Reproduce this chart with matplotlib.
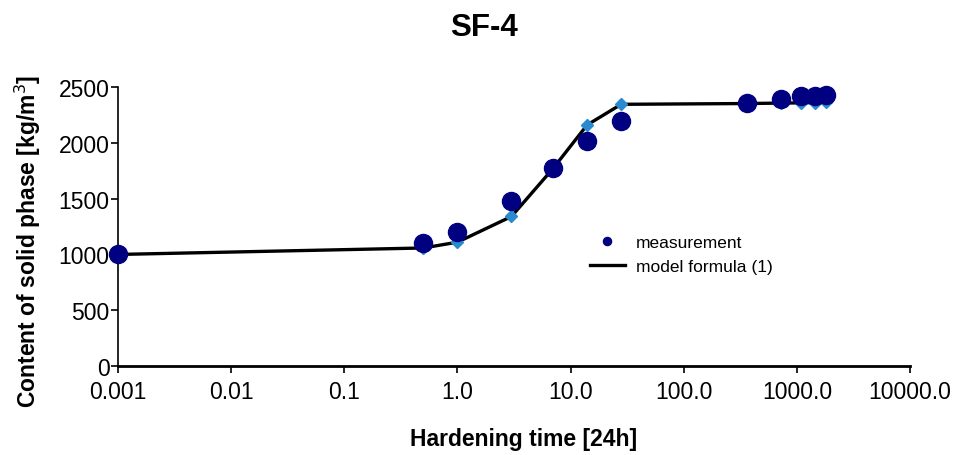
import matplotlib
matplotlib.use("Agg")
import matplotlib.pyplot as plt

plt.rcParams['font.family'] = ['Liberation Sans', 'DejaVu Sans']

time_days = [0.001, 0.5, 1, 3, 7, 14, 28, 365, 730, 1095, 1460, 1825]
measured = [1000, 1105, 1205, 1482, 1777, 2018, 2196, 2357, 2393, 2415, 2420, 2428]
model = [1000, 1058, 1110, 1340, 1770, 2160, 2345, 2352, 2356, 2358, 2360, 2362]

xticks = [0.001, 0.01, 0.1, 1, 10, 100, 1000, 10000]
xtick_labels = ["0.001", "0.01", "0.1", "1.0", "10.0", "100.0", "1000.0", "10000.0"]
yticks = [0, 500, 1000, 1500, 2000, 2500]

fig = plt.figure(figsize=(9.64, 4.56), dpi=100)
ax = fig.add_axes([0.1224, 0.195, 0.944 - 0.1224, 0.807 - 0.195])

ax.plot(time_days, model, color='black', lw=2.4, zorder=2, label='model formula (1)')
ax.plot(time_days, model, linestyle='none', marker='D', markersize=6,
        color='#2a8acf', zorder=3, clip_on=False)
ax.plot(time_days, measured, linestyle='none', marker='o', markersize=13,
        color='#000080', zorder=4, clip_on=False, label='measurement')

ax.set_xscale('log')
ax.set_xlim(0.001, 10000)
ax.set_ylim(0, 2500)
ax.set_xticks(xticks)
ax.set_xticklabels(xtick_labels)
ax.minorticks_off()
ax.set_yticks(yticks)

for s in ['top', 'right']:
    ax.spines[s].set_visible(False)
ax.spines['bottom'].set_linewidth(2.0)
ax.spines['left'].set_linewidth(1.2)
ax.tick_params(axis='x', direction='out', length=5, width=1.2, labelsize=16.5, pad=5)
ax.tick_params(axis='y', direction='out', length=5, width=1.2, labelsize=16.5, pad=1)

fig.text(484 / 964, 1 - 28 / 456, 'SF-4', fontsize=22.5, fontweight='bold',
         ha='center', va='center')
fig.text(524 / 964, 1 - 440 / 456, 'Hardening time [24h]', fontsize=16.5,
         fontweight='bold', ha='center', va='center')
fig.text(28 / 964, 1 - 241 / 456, 'Content of solid phase [kg/m$^3$]', fontsize=16.5,
         fontweight='bold', ha='center', va='center', rotation=90)

h, l = ax.get_legend_handles_labels()
leg = ax.legend([h[1], h[0]], [l[1], l[0]], loc='upper left',
                bbox_to_anchor=(590 / 964, 1 - 236 / 456),
                bbox_transform=fig.transFigure, frameon=False, fontsize=12.5,
                markerscale=0.45, handlelength=2.0, handletextpad=0.65,
                labelspacing=0.5, borderpad=0, borderaxespad=0)

fig.savefig('out.png', dpi=100)
